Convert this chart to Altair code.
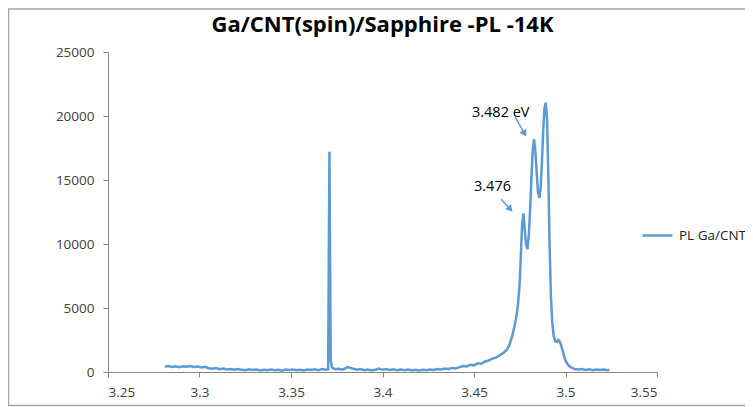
import altair as alt
import pandas as pd

# --- data ---
energy = [
    3.281, 3.283, 3.285, 3.287, 3.289, 3.291, 3.293, 3.295, 3.297, 3.299,
    3.301, 3.303, 3.305, 3.307, 3.309, 3.311, 3.313, 3.315, 3.317, 3.319,
    3.321, 3.323, 3.325, 3.327, 3.329, 3.331, 3.333, 3.335, 3.337, 3.339,
    3.341, 3.343, 3.345, 3.347, 3.349, 3.351, 3.353, 3.355, 3.357, 3.359,
    3.361, 3.363, 3.365, 3.367, 3.369, 3.3703, 3.3710, 3.3717, 3.3724, 3.374,
    3.376, 3.378, 3.380, 3.381, 3.382, 3.384, 3.386, 3.388, 3.390, 3.392,
    3.394, 3.396, 3.398, 3.400, 3.402, 3.404, 3.406, 3.408, 3.410, 3.412,
    3.414, 3.416, 3.418, 3.420, 3.422, 3.424, 3.426, 3.428, 3.430, 3.432,
    3.434, 3.436, 3.438, 3.440, 3.442, 3.444, 3.446, 3.448, 3.450, 3.452,
    3.454, 3.456, 3.458, 3.460, 3.462, 3.464, 3.466, 3.468, 3.469, 3.470,
    3.471, 3.472, 3.473, 3.474, 3.475, 3.4757, 3.4763, 3.4770, 3.4777, 3.4785,
    3.4792, 3.4800, 3.4807, 3.4814, 3.4821, 3.4828, 3.4835, 3.4843, 3.4850, 3.4857,
    3.4864, 3.4871, 3.4878, 3.4885, 3.4892, 3.4899, 3.4906, 3.4913, 3.4920, 3.4928,
    3.4936, 3.4945, 3.4953, 3.4961, 3.4968, 3.4976, 3.4984, 3.4992, 3.5000, 3.5008,
    3.5016, 3.5025, 3.5034, 3.5042, 3.505, 3.507, 3.509, 3.511, 3.513, 3.515,
    3.517, 3.519, 3.521, 3.523, 3.524,
]
intensity = [
    420, 470, 400, 450, 380, 440, 410, 470, 390, 430,
    360, 400, 300, 260, 310, 220, 270, 200, 240, 170,
    230, 180, 140, 210, 150, 190, 120, 180, 140, 200,
    130, 170, 110, 190, 150, 200, 140, 180, 120, 190,
    150, 210, 140, 230, 170, 200, 17200, 900, 350, 220,
    260, 180, 300, 400, 340, 250, 170, 230, 140, 200,
    120, 180, 260, 170, 230, 150, 210, 130, 190, 140,
    200, 120, 170, 110, 180, 140, 200, 160, 230, 190,
    270, 230, 320, 280, 380, 470, 430, 560, 520, 680,
    640, 820, 900, 1050, 1120, 1300, 1480, 1750, 2000, 2400,
    2900, 3500, 4200, 5200, 7000, 9500, 11500, 12400, 11200, 9900,
    9600, 10800, 12800, 15200, 17400, 18200, 17300, 15500, 14000, 13600,
    14300, 16300, 18800, 20600, 21050, 19800, 15500, 10000, 6000, 3800,
    2800, 2400, 2350, 2500, 2400, 2100, 1700, 1250, 900, 700,
    520, 420, 330, 280, 240, 190, 230, 160, 210, 140,
    200, 150, 190, 140, 170,
]
series_name = "PL Ga/CNT"
title_text = "Ga/CNT(spin)/Sapphire -PL -14K"

x_ticks = [3.25, 3.3, 3.35, 3.4, 3.45, 3.5, 3.55]
y_ticks = [0, 5000, 10000, 15000, 20000, 25000]

# annotations (data coordinates)
ann_text = ["3.482 eV", "3.476"]
ann_x = [3.4646, 3.4601]
ann_y = [20210, 14480]
arrow_x1 = [3.4724, 3.4648]
arrow_y1 = [19945, 13516]
arrow_x2 = [3.4776, 3.4698]
arrow_y2 = [18620, 12720]
arrow_angle = [61, 48]

BLUE = "#5B9BD5"
W, H = 549, 320

df = pd.DataFrame({"energy": energy, "intensity": intensity, "series": series_name})
ann = pd.DataFrame({"t": ann_text, "x": ann_x, "y": ann_y})
arr = pd.DataFrame({"x1": arrow_x1, "y1": arrow_y1, "x2": arrow_x2, "y2": arrow_y2,
                    "angle": arrow_angle})

xscale = alt.Scale(domain=[3.25, 3.55], nice=False, zero=False)
yscale = alt.Scale(domain=[0, 25000], nice=False)

line = alt.Chart(df).mark_line(strokeWidth=2.5, interpolate="linear").encode(
    x=alt.X("energy:Q", scale=xscale,
            axis=alt.Axis(values=x_ticks, format=".2~f", title=None, grid=False,
                          tickSize=5, labelPadding=8)),
    y=alt.Y("intensity:Q", scale=yscale,
            axis=alt.Axis(values=y_ticks, format="d", title=None, grid=False,
                          tickSize=5, labelPadding=9)),
    color=alt.Color("series:N", scale=alt.Scale(range=[BLUE]),
                    legend=alt.Legend(orient="none", legendX=533, legendY=167,
                                      symbolType="stroke", symbolSize=900,
                                      symbolStrokeWidth=2.5, labelFontSize=13.5,
                                      labelFont="Open Sans", labelColor="#222222",
                                      labelOffset=5),
                    title=None),
)

texts = alt.Chart(ann).mark_text(font="Open Sans", fontSize=14.5, color="#000000",
                                 align="center", baseline="middle").encode(
    x=alt.X("x:Q", scale=xscale), y=alt.Y("y:Q", scale=yscale), text="t:N")

shafts = alt.Chart(arr).mark_rule(color=BLUE, strokeWidth=1.4).encode(
    x=alt.X("x1:Q", scale=xscale), y=alt.Y("y1:Q", scale=yscale),
    x2="x2:Q", y2="y2:Q")

heads = alt.Chart(arr).mark_point(shape="triangle-right", filled=True, opacity=1,
                                  color=BLUE, size=60).encode(
    x=alt.X("x2:Q", scale=xscale), y=alt.Y("y2:Q", scale=yscale),
    angle=alt.Angle("angle:Q", scale=None))

title = alt.Chart(pd.DataFrame({"t": [title_text]})).mark_text(
    font="Open Sans", fontWeight="bold", fontSize=22, color="#000000",
    align="center", baseline="alphabetic").encode(
    x=alt.value(W / 2), y=alt.value(-20), text="t:N")

border = alt.Chart(pd.DataFrame({"a": [0]})).mark_rect(
    fill=None, stroke="#A6A6A6", strokeWidth=1.5).encode(
    x=alt.value(-99.5), x2=alt.value(W + 120), y=alt.value(-43), y2=alt.value(353.5))

chart = alt.layer(border, line, shafts, heads, texts, title).properties(
    width=W, height=H,
    autosize=alt.AutoSizeParams(type="none"),
    padding={"left": 100, "top": 44, "right": 88, "bottom": 35},
).configure_view(stroke=None).configure_axis(
    domainColor="#868686", tickColor="#868686", labelColor="#404040",
    labelFont="Open Sans", labelFontSize=13.5,
)

chart.save("out.html", embed_options={"renderer": "svg", "actions": False})
